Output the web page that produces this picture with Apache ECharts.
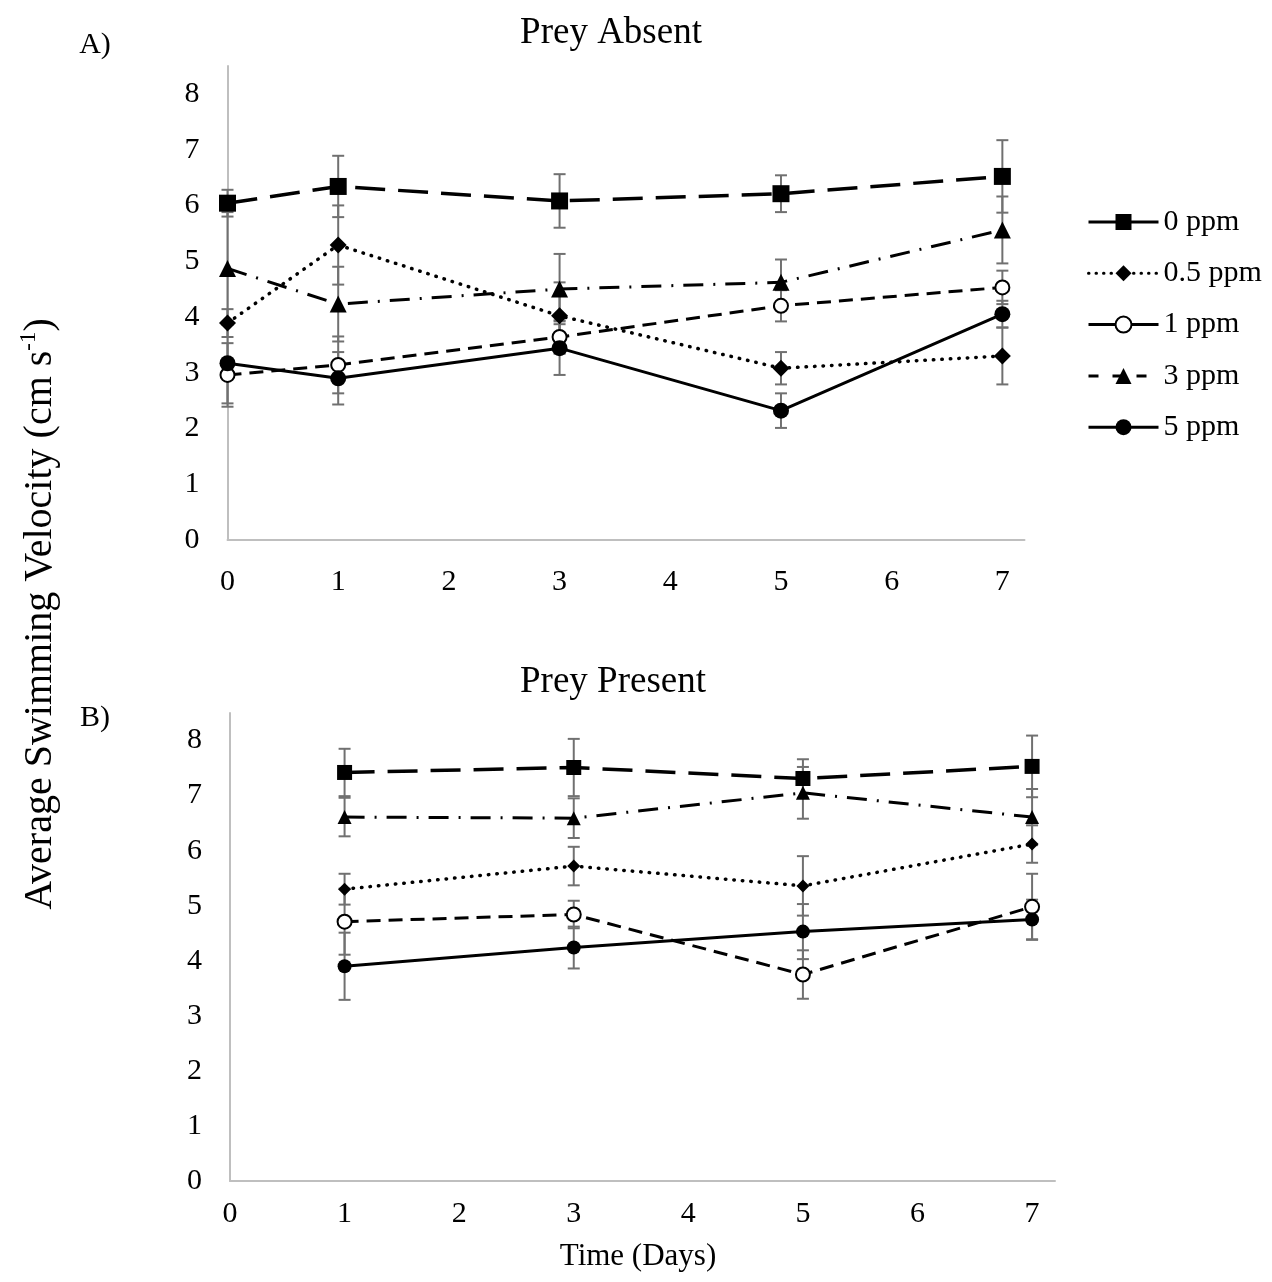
<!DOCTYPE html>
<html>
<head>
<meta charset="utf-8">
<script src="https://cdn.jsdelivr.net/npm/echarts@6/dist/echarts.min.js"></script>
<style>
html,body{margin:0;padding:0;background:#fff;}
#chart{width:1272px;height:1282px;}
</style>
</head>
<body>
<div id="chart"></div>
<script>
// ---------- data ----------
const seriesNames = ['0 ppm', '0.5 ppm', '1 ppm', '3 ppm', '5 ppm'];
const xTicks = [0, 1, 2, 3, 4, 5, 6, 7];
const yTicks = [0, 1, 2, 3, 4, 5, 6, 7, 8];

// Panel A: Prey Absent
const daysAbsent = [0, 1, 3, 5, 7];
const absent0   = [6.04, 6.34, 6.08, 6.21, 6.52];
const absent0Err  = [0.24, 0.55, 0.48, 0.33, 0.65];
const absent05  = [3.89, 5.29, 4.02, 3.08, 3.30];
const absent05Err = [0.25, 0.71, 0.60, 0.29, 0.51];
const absent1   = [2.96, 3.14, 3.64, 4.20, 4.53];
const absent1Err  = [0.57, 0.51, 0.30, 0.28, 0.30];
const absent3   = [4.87, 4.23, 4.50, 4.62, 5.56];
const absent3Err  = [1.01, 0.67, 0.63, 0.41, 0.60];
const absent5   = [3.17, 2.90, 3.44, 2.32, 4.05];
const absent5Err  = [0.72, 0.47, 0.48, 0.31, 0.24];

// Panel B: Prey Present
const daysPresent = [1, 3, 5, 7];
const present0  = [7.42, 7.51, 7.31, 7.53];
const present0Err = [0.43, 0.52, 0.35, 0.56];
const present05 = [5.30, 5.72, 5.36, 6.12];
const present05Err = [0.28, 0.35, 0.54, 0.34];
const present1  = [4.71, 4.84, 3.75, 4.98];
const present1Err = [0.60, 0.25, 0.44, 0.60];
const present3  = [6.61, 6.59, 7.05, 6.61];
const present3Err = [0.35, 0.36, 0.47, 0.51];
const present5  = [3.90, 4.24, 4.53, 4.75];
const present5Err = [0.61, 0.38, 0.50, 0.36];

// ---------- styles ----------
const FONT = '"Liberation Serif", "Times New Roman", serif';
const styles = [
  {symbol: 'rect', sizeA: 17, sizeB: 15, line: [30, 13], cap: 'butt', width: 3.5, fill: '#000'},
  {symbol: 'diamond', sizeA: 17, sizeB: 13, line: [0.5, 8], cap: 'round', width: 3.5, fill: '#000'},
  {symbol: 'circle', sizeA: 14, sizeB: 14, line: [14, 8], cap: 'butt', width: 3, fill: '#fff'},
  {symbol: 'triangle', sizeA: 17, sizeB: 14, line: [20, 10, 2, 10], cap: 'butt', width: 3, fill: '#000'},
  {symbol: 'circle', sizeA: 16, sizeB: 14, line: 'solid', cap: 'butt', width: 3, fill: '#000'}
];
const absentMeans = [absent0, absent05, absent1, absent3, absent5];
const absentErrs = [absent0Err, absent05Err, absent1Err, absent3Err, absent5Err];
const presentMeans = [present0, present05, present1, present3, present5];
const presentErrs = [present0Err, present05Err, present1Err, present3Err, present5Err];

function lineSeries(name, i, days, vals, axis, size) {
  const s = styles[i];
  return {
    name: name, type: 'line', xAxisIndex: axis, yAxisIndex: axis,
    data: days.map((d, k) => [d, vals[k]]),
    symbol: s.symbol, symbolSize: size, showAllSymbol: true,
    lineStyle: {color: '#000', width: s.width, type: s.line, cap: s.cap},
    itemStyle: {color: s.fill, borderColor: '#000', borderWidth: s.fill === '#fff' ? 2 : 0},
    z: 3, animation: false, emphasis: {disabled: true}
  };
}
function errSeries(name, days, vals, errs, axis) {
  return {
    name: name + ' (error)', type: 'custom', xAxisIndex: axis, yAxisIndex: axis,
    data: days.map((d, k) => [d, vals[k] - errs[k], vals[k] + errs[k]]),
    encode: {x: 0, y: [1, 2]},
    renderItem: function (params, api) {
      const x = api.value(0);
      const lo = api.coord([x, api.value(1)]);
      const hi = api.coord([x, api.value(2)]);
      const w = 6;
      const st = {stroke: '#707070', lineWidth: 2};
      return {type: 'group', children: [
        {type: 'line', shape: {x1: lo[0], y1: lo[1], x2: hi[0], y2: hi[1]}, style: st},
        {type: 'line', shape: {x1: lo[0] - w, y1: lo[1], x2: lo[0] + w, y2: lo[1]}, style: st},
        {type: 'line', shape: {x1: hi[0] - w, y1: hi[1], x2: hi[0] + w, y2: hi[1]}, style: st}
      ]};
    },
    z: 2, animation: false, silent: true
  };
}

const series = [];
seriesNames.forEach((n, i) => {
  series.push(lineSeries(n, i, daysAbsent, absentMeans[i], 0, styles[i].sizeA));
  series.push(lineSeries(n, i, daysPresent, presentMeans[i], 1, styles[i].sizeB));
});
seriesNames.forEach((n, i) => {
  series.push(errSeries(n, daysAbsent, absentMeans[i], absentErrs[i], 0));
  series.push(errSeries(n, daysPresent, presentMeans[i], presentErrs[i], 1));
});

function xAxis(gi, margin) {
  return {
    type: 'value', gridIndex: gi, min: xTicks[0], max: 7.2, interval: 1,
    axisLine: {show: true, lineStyle: {color: '#bfbfbf', width: 2}},
    axisTick: {show: false}, splitLine: {show: false},
    axisLabel: {color: '#000', fontFamily: FONT, fontSize: 30, margin: margin, showMaxLabel: false,
      formatter: v => xTicks.indexOf(v) >= 0 ? String(v) : ''}
  };
}
function yAxis(gi) {
  return {
    type: 'value', gridIndex: gi, min: yTicks[0], max: 8.5, interval: 1,
    axisLine: {show: true, onZero: false, lineStyle: {color: '#bfbfbf', width: 2}},
    axisTick: {show: false}, splitLine: {show: false},
    axisLabel: {color: '#000', fontFamily: FONT, fontSize: 30, margin: 28, showMaxLabel: false,
      formatter: v => yTicks.indexOf(v) >= 0 ? String(v) : ''}
  };
}

const legendLine = [
  {type: 'solid'}, {type: [0.5, 7], cap: 'round'}, {type: 'solid'}, {type: [10, 14]}, {type: 'solid'}
];

const option = {
  backgroundColor: '#fff',
  animation: false,
  title: [
    {text: 'Prey Absent', left: 611, top: 15, textAlign: 'center', padding: 0,
      textStyle: {fontFamily: FONT, fontSize: 37, fontWeight: 'normal', color: '#000'}},
    {text: 'Prey Present', left: 613, top: 664, textAlign: 'center', padding: 0,
      textStyle: {fontFamily: FONT, fontSize: 37, fontWeight: 'normal', color: '#000'}}
  ],
  legend: {
    orient: 'vertical', left: 1087, top: 207, padding: 0,
    itemWidth: 70, itemHeight: 20, itemGap: 21.3,
    textStyle: {fontFamily: FONT, fontSize: 30, color: '#000', lineHeight: 30},
    data: seriesNames.map((n, i) => ({
      name: n,
      lineStyle: Object.assign({color: '#000', width: 3}, legendLine[i])
    })),
    selectedMode: false
  },
  grid: [
    {left: 227.5, top: 66, width: 797, height: 474, containLabel: false},
    {left: 230, top: 713, width: 825, height: 468, containLabel: false}
  ],
  xAxis: [xAxis(0, 27), xAxis(1, 18)],
  yAxis: [yAxis(0), yAxis(1)],
  graphic: [
    {type: 'text', x: 95, y: 45, style: {text: 'A)', fontFamily: FONT, fontSize: 30, fill: '#000', align: 'center', verticalAlign: 'middle'}},
    {type: 'text', x: 95, y: 718, style: {text: 'B)', fontFamily: FONT, fontSize: 30, fill: '#000', align: 'center', verticalAlign: 'middle'}},
    {type: 'text', x: 638, y: 1257, style: {text: 'Time (Days)', fontFamily: FONT, fontSize: 31, fill: '#000', align: 'center', verticalAlign: 'middle'}},
    {type: 'text', x: 40, y: 614, rotation: Math.PI / 2,
      style: {
        text: '{n|Average Swimming Velocity (cm s}{s|-1}{n|)}',
        align: 'center', verticalAlign: 'middle', fill: '#000',
        rich: {
          n: {fontFamily: FONT, fontSize: 40, fill: '#000', lineHeight: 46},
          s: {fontFamily: FONT, fontSize: 23, fill: '#000', verticalAlign: 'top', lineHeight: 46, padding: [0, 0, 20, 0]}
        }
      }}
  ],
  series: series
};

const chart = echarts.init(document.getElementById('chart'), null, {renderer: 'canvas'});
chart.setOption(option);
</script>
</body>
</html>
